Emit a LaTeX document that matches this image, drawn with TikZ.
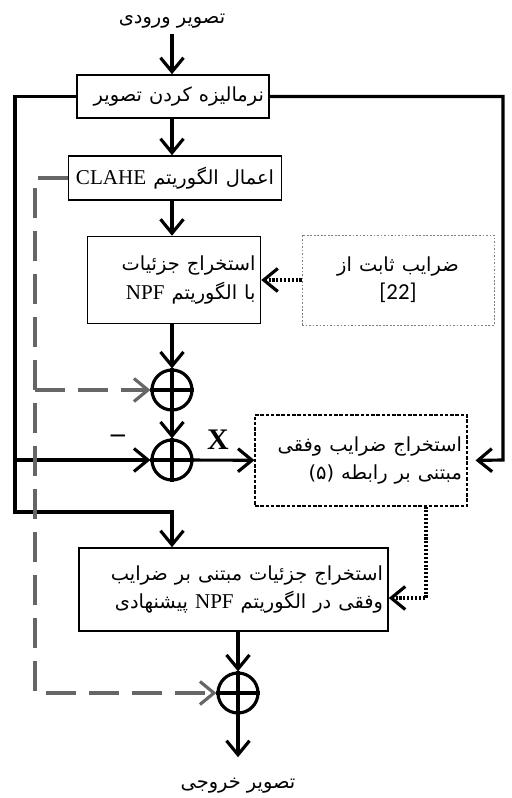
\documentclass[tikz,border=0pt]{standalone}
\usepackage{fontspec}
\setmainfont{Liberation Serif}
\newfontfamily\farsi[Script=Arabic,Scale=0.92]{DejaVu Sans}
\newfontfamily\calfont{Carlito}
\usetikzlibrary{arrows.meta}
\TeXXeTstate=1
\newcommand{\fatxt}[1]{\mbox{\farsi\beginR #1\endR}}
\newcommand{\entxt}[1]{\beginL{\rmfamily #1}\endL}

\begin{document}
\begin{tikzpicture}[x=0.02cm, y=-0.02cm,
  font=\fontsize{12}{16}\selectfont,
  box/.style={draw, line width=0.9pt, align=right, inner xsep=0.1cm, inner ysep=0pt},
  sum/.style={draw, circle, line width=1.8pt, minimum size=0.8cm, inner sep=0pt},
  wire/.style={line width=1.8pt},
  arr/.style={wire, -{Straight Barb[length=2.8mm,width=4.6mm]}},
  garr/.style={arr, draw=black!60, dash pattern=on 0.6cm off 0.26cm},
  darr/.style={arr, dash pattern=on 1.2pt off 1pt}
]
\useasboundingbox (0,0) rectangle (511,798);

\node (inp) at (172,21) {\fatxt{تصویر ورودی}};
\node[box, text width=3.64cm, minimum height=0.86cm] (norm) at (173,96.5) {\fatxt{نرمالیزه کردن تصویر}};
\node[box, align=center, text width=4.06cm, minimum height=0.88cm] (clahe) at (175,178) {\fatxt{اعمال الگوریتم \entxt{CLAHE}}};
\node[box, text width=3.26cm, minimum height=1.74cm] (npf) at (174,280) {\fatxt{استخراج جزئیات}\\ \fatxt{با الگوریتم \entxt{NPF}}};
\node[box, align=center, draw=black!50, line width=0.5pt, dash pattern=on 1pt off 1pt, text width=3.64cm, minimum height=1.8cm] (fixc) at (398,280) {\fatxt{ضرایب ثابت از}\\ {\calfont\fontsize{13}{16}\selectfont [22]}};
\node[sum] (c1) at (172,390) {};
\node[sum] (c2) at (172,460) {};
\node[box, line width=0.6pt, dash pattern=on 2pt off 1pt, text width=4.04cm, minimum height=1.82cm] (adapt) at (361,460.5) {\fatxt{استخراج ضرایب وفقی}\\ \fatxt{مبتنی بر رابطه (۵)}};
\node[box, text width=5.98cm, minimum height=1.66cm] (detail) at (233.5,589.5) {\fatxt{استخراج جزئیات مبتنی بر ضرایب}\\ \fatxt{وفقی در الگوریتم \entxt{NPF} پیشنهادی}};
\node[sum] (c3) at (238,693) {};
\node (out) at (238,786) {\fatxt{تصویر خروجی}};
\node[font=\fontsize{16}{16}\selectfont\bfseries] (minus) at (118,439) {--};
\node[font=\fontsize{17}{17}\selectfont\bfseries] (xlab) at (218,440) {X};

\coordinate (lsplit) at (15,460);
\coordinate (lbot) at (15,512);
\coordinate (rt) at (503,460);
\coordinate (gbot) at (35,693);

% crosses in the sum nodes
\foreach \c in {c1,c2,c3}
  \draw[wire] (\c.north) -- (\c.south) (\c.west) -- (\c.east);

% main path
\draw[arr] (inp) -- (norm.north -| c1);
\draw[arr] (norm.south -| c1) -- (clahe.north -| c1);
\draw[arr] (clahe.south -| c1) -- (npf.north -| c1);
\draw[arr] (npf.south -| c1) -- (c1);
\draw[arr] (c1) -- (c2);
\draw[arr] (c2) -- (adapt);
\draw[arr] (detail.south -| c3) -- (c3);
\draw[arr, shorten >=0.3cm] (c3) -- (out);

% bypass lines
\draw[wire] (norm.west) -| (lsplit);
\draw[arr] (lsplit) -- (c2);
\draw[arr] (lsplit) -- (lbot) -| (detail.north -| c2);
\draw[arr, shorten >=0.16cm] (norm.east) -| (rt) -- (adapt.east);

% gray dashed
\draw[garr] (clahe.west) -| (gbot) -- (c3);
\draw[garr] (gbot |- c1) -- (c1);

% dotted
\draw[darr] (fixc) -- (npf);
\draw[darr] ([xshift=1.3cm]adapt.south) |- ([yshift=-0.17cm]detail.east);
\end{tikzpicture}
\end{document}
